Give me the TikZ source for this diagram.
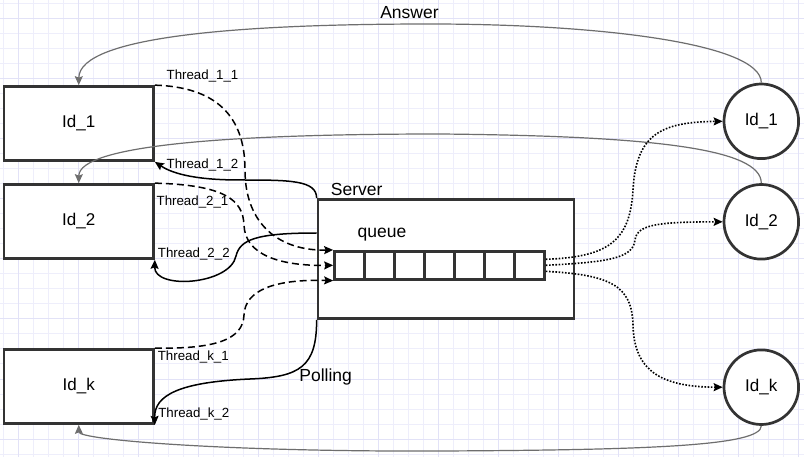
\documentclass[tikz,border=0pt]{standalone}
\usepackage{fontspec}
\setmainfont{Liberation Sans}
\usetikzlibrary{calc,arrows.meta}
\definecolor{edgec}{HTML}{333333}
\definecolor{ansc}{HTML}{6E6E6E}
\definecolor{gridmin}{HTML}{EEEEFB}
\definecolor{gridmaj}{HTML}{E2E2F7}
\tikzset{
  idbox/.style={draw=edgec,fill=white,line width=2.7pt,minimum width=149.5pt,minimum height=74pt,inner sep=0pt,font=\fontsize{17}{20}\selectfont},
  idcirc/.style={circle,draw=edgec,fill=white,line width=2.7pt,minimum size=74.6pt,inner sep=0pt,font=\fontsize{17}{20}\selectfont},
  srvbox/.style={draw=edgec,fill=white,line width=2.7pt,minimum width=256pt,minimum height=119pt,inner sep=0pt},
  cell/.style={draw=edgec,fill=white,line width=2.7pt,minimum width=30pt,minimum height=28pt,inner sep=0pt},
  lblbig/.style={inner sep=0pt,font=\fontsize{17.5}{20}\selectfont},
  lblsm/.style={inner sep=0pt,font=\fontsize{13.3}{15}\selectfont},
  req/.style={-{Stealth[length=9pt,width=8pt,inset=1.5pt]},line width=1.5pt,dash pattern=on 7pt off 4pt},
  poll/.style={-{Stealth[length=9pt,width=8pt,inset=1.5pt]},line width=1.5pt},
  ans/.style={-{Stealth[length=9pt,width=8pt,inset=1.5pt]},line width=1.2pt,ansc},
  push/.style={-{Stealth[length=9pt,width=8pt,inset=1.5pt]},line width=1.6pt,dash pattern=on 1.6pt off 1.6pt}
}
\begin{document}
\begin{tikzpicture}[x=1pt,y=-1pt]
\useasboundingbox[fill=white] (0,0) rectangle (804,457);
\foreach \gx in {3,18,...,798} \draw[gridmin,line width=1pt] (\gx,0) -- (\gx,457);
\foreach \gy in {4,19,...,454} \draw[gridmin,line width=1pt] (0,\gy) -- (804,\gy);
\foreach \gx in {18,78,...,798} \draw[gridmaj,line width=1pt] (\gx,0) -- (\gx,457);
\foreach \gy in {19,79,...,439} \draw[gridmaj,line width=1pt] (0,\gy) -- (804,\gy);

\node[idbox] (b1) at (78.75,123.5) {Id\_1};
\node[idbox] (b2) at (78.75,221.5) {Id\_2};
\node[idbox] (bk) at (78.75,386.5) {Id\_k};
\node[idcirc] (c1) at (761.3,121.3) {Id\_1};
\node[idcirc] (c2) at (761.3,221.8) {Id\_2};
\node[idcirc] (ck) at (761.3,387.2) {Id\_k};
\node[srvbox] (sv) at (446,259) {};
\foreach \i in {1,...,7} \node[cell] (q\i) at ({319.5+30*\i},265.3) {};

\node[lblbig] (slbl) at (356.7,189) {Server};
\node[lblbig] (qlbl) at (382,235) {queue};
\node[lblbig] (plbl) at (325.7,377) {Polling};
\node[lblbig] (alb) at (409.5,12.5) {Answer};
\node[lblsm] (t11) at (202.5,76.5) {Thread\_1\_1};
\node[lblsm] (t12) at (202.5,165) {Thread\_1\_2};
\node[lblsm] (t21) at (192.5,202.5) {Thread\_2\_1};
\node[lblsm] (t22) at (193.8,254.3) {Thread\_2\_2};
\node[lblsm] (tk1) at (193.3,356.8) {Thread\_k\_1};
\node[lblsm] (tk2) at (193.8,413.7) {Thread\_k\_2};

\draw[ans] (c1.north) .. controls +(0,-39) and (600,24) .. (430,24) .. controls (250,24) and (79,35) .. (b1.north);
\draw[ans] (c2.north) .. controls +(0,-35) and (650,136) .. (440,134) .. controls (230,134) and (79,145) .. (b2.north);
\draw[ans] (ck.south) .. controls +(0,20) and (650,450) .. (440,451) .. controls (230,452) and (79,440) .. (bk.south);

\draw[req] (b1.north east) .. controls (215,87) and (245,115) .. (245,170) .. controls (245,225) and (280,251) .. (q1.north west);
\draw[req] (b2.north east) .. controls (225,185) and (243,200) .. (244,225) .. controls (245,255) and (280,266) .. (q1.west);
\draw[req] (bk.north east) .. controls (215,349) and (243,340) .. (244,315) .. controls (245,290) and (275,279) .. (q1.south west);

\draw[poll] (sv.north west) .. controls +(0,-18) and (290,180) .. (240,180) .. controls (190,180) and (170,172) .. (b1.south east);
\draw[poll] ($(sv.west)+(0,-26)$) .. controls (255,233) and (240,240) .. (236,256) .. controls (230,285) and (154,290) .. (b2.south east);
\draw[poll] (sv.south west) .. controls +(0,47) and (300,377) .. (250,379) .. controls (180,382) and (154,395) .. (bk.south east);

\draw[push] ($(q7.east)+(0,-6)$) .. controls (610,257) and (630,240) .. (633,190) .. controls (636,135) and (660,122) .. (c1.west);
\draw[push] (q7.east) .. controls (610,262) and (633,258) .. (635,240) .. controls (637,224) and (660,222) .. (c2.west);
\draw[push] ($(q7.east)+(0,6)$) .. controls (610,275) and (632,285) .. (633,325) .. controls (634,370) and (660,387) .. (ck.west);
\end{tikzpicture}
\end{document}
